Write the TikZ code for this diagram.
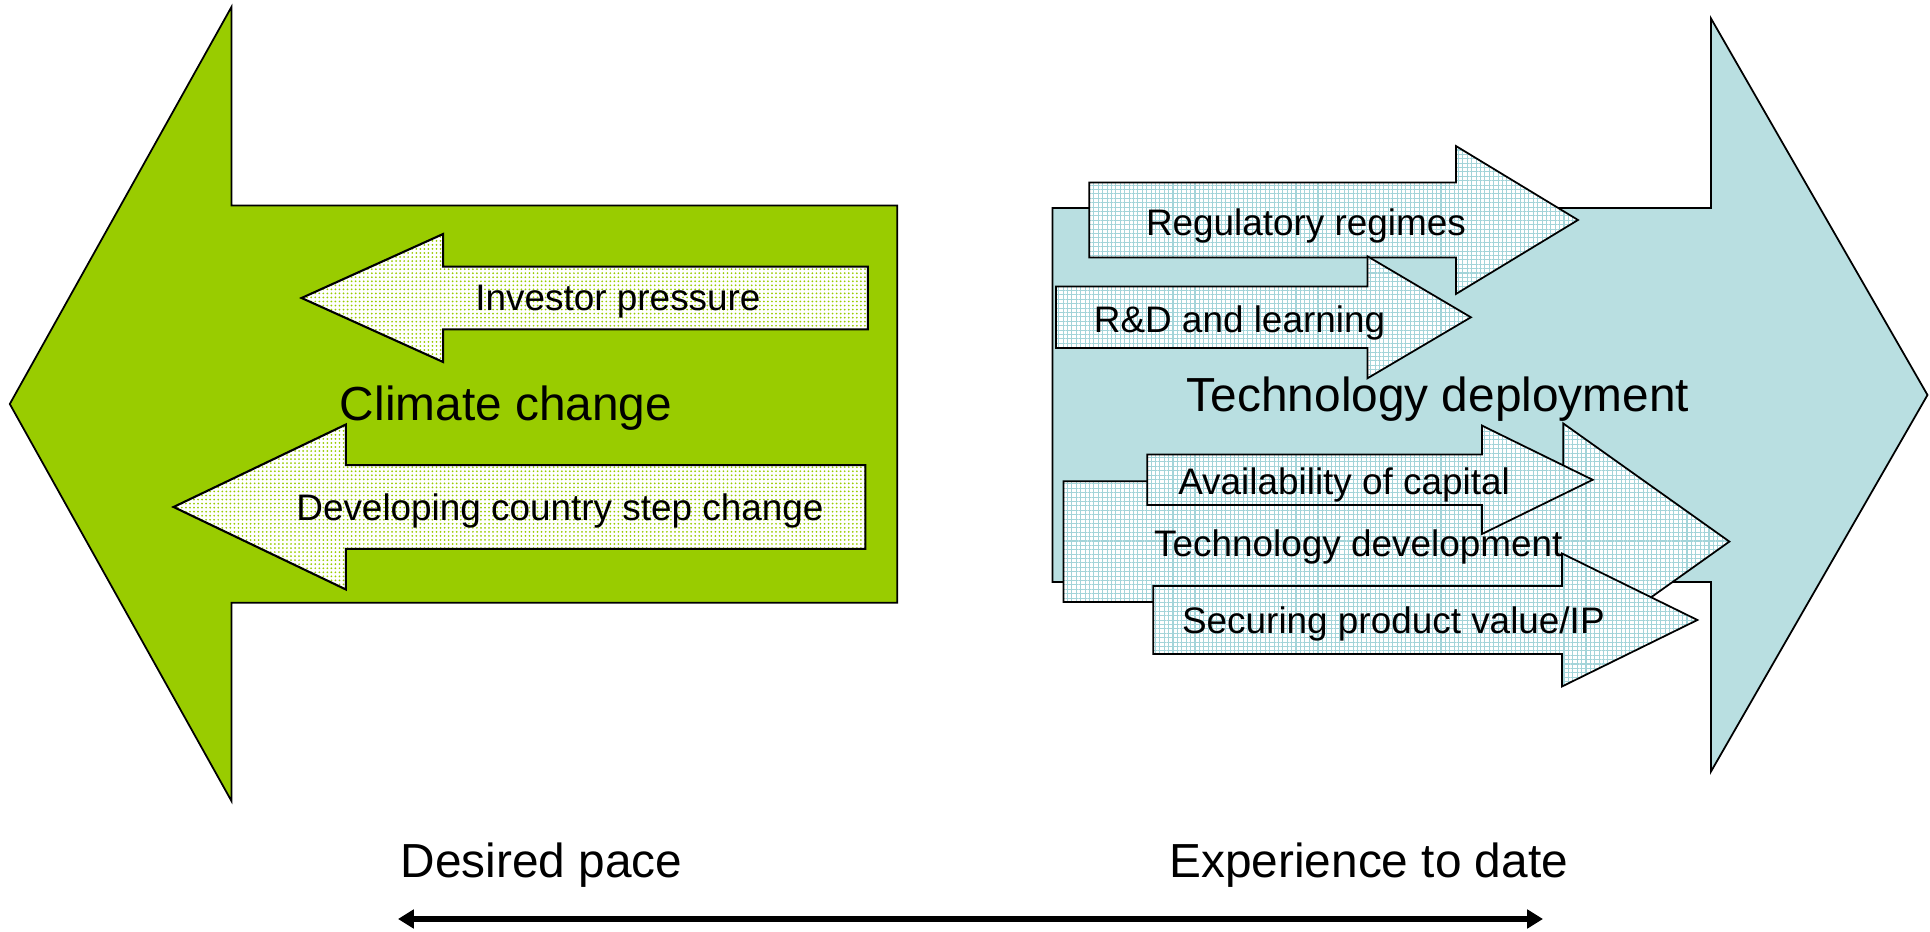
\documentclass[tikz,border=0pt]{standalone}
\usepackage{fontspec}
\setmainfont{Liberation Sans}
\usetikzlibrary{patterns.meta,arrows.meta}

\definecolor{climgreen}{HTML}{99CC00}
\definecolor{techblue}{HTML}{B9DFE1}
\definecolor{gridblue}{HTML}{A3D4D9}

\tikzset{
  bigshape/.style={draw=black, line width=0.5pt, line join=miter},
  greenpush/.style={draw=black, line width=0.6pt, preaction={fill=white},
    pattern={Dots[distance=1.15pt, radius=0.28pt]}, pattern color=climgreen},
  bluepush/.style={draw=black, line width=0.5pt, preaction={fill=white},
    pattern={Hatch[angle=0, distance=1.25pt, line width=0.3pt]}, pattern color=gridblue},
  biglabel/.style={font=\fontsize{13.6}{16}\selectfont, inner sep=0pt},
  smalllabel/.style={font=\fontsize{10.5}{12.6}\selectfont, inner sep=0pt}
}

\begin{document}
\begin{tikzpicture}
            \useasboundingbox (0, 0) rectangle (19.30, 9.32);

            % the climate change arrow
            \draw[bigshape, fill=climgreen]
            (8.973, 7.264) -- (2.314, 7.264) -- (2.314, 9.249) -- (0.098, 5.28)
            -- (2.314, 1.311) -- (2.314, 3.292) -- (8.973, 3.292) -- cycle;

            % the technology deployment arrow
            \draw[bigshape, fill=techblue]
            (10.524, 7.241) -- (17.109, 7.241) -- (17.109, 9.137) -- (19.275, 5.37)
            -- (17.109, 1.603) -- (17.109, 3.499) -- (10.524, 3.499) -- cycle;

            % pressures pushing to the left
            \foreach \xr/\xh/\xt/\yc/\sw/\hw in {8.678/4.431/3.016/6.34/0.314/0.64,
                8.653/3.459/1.736/4.25/0.419/0.825}{
            \draw[greenpush]
            (\xr, \yc+\sw) -- (\xh, \yc+\sw) -- (\xh, \yc+\hw) -- (\xt, \yc)
            -- (\xh, \yc-\hw) -- (\xh, \yc-\sw) -- (\xr, \yc-\sw) -- cycle;
            }

            % barriers pushing to the right
            \foreach \xl/\xh/\xt/\yc/\sw/\hw in {10.893/14.561/15.78/7.12/0.376/0.739,
                10.561/13.675/14.709/6.147/0.308/0.61,
                10.635/15.632/17.294/3.904/0.603/1.182,
                11.472/14.82/15.927/4.522/0.253/0.542,
                11.533/15.62/16.974/3.12/0.339/0.665}{
            \draw[bluepush]
            (\xl, \yc+\sw) -- (\xh, \yc+\sw) -- (\xh, \yc+\hw) -- (\xt, \yc)
            -- (\xh, \yc-\hw) -- (\xh, \yc-\sw) -- (\xl, \yc-\sw) -- cycle;
            }

            \node[biglabel] (climate) at (5.06, 5.24) {Climate change};
            \node[biglabel] (techdep) at (14.38, 5.327) {Technology deployment};

            \node[smalllabel] (investor) at (6.18, 6.30) {Investor pressure};
            \node[smalllabel] (developing) at (5.60, 4.209) {Developing country step change};

            \node[smalllabel] (regulatory) at (13.06, 7.06) {Regulatory regimes};
            \node[smalllabel] (rnd) at (12.395, 6.095) {R\&D and learning};
            \node[smalllabel] (capital) at (13.441, 4.47) {Availability of capital};
            \node[smalllabel] (techdev) at (13.583, 3.855) {Technology development};
            \node[smalllabel] (securing) at (13.934, 3.078) {Securing product value/IP};

            % the pace scale
            \node[biglabel] (desired) at (5.416, 0.666) {Desired pace};
            \node[biglabel] (experience) at (13.687, 0.666) {Experience to date};
            \coordinate (paceL) at (3.98, 0.13);
            \coordinate (paceR) at (15.43, 0.13);
            \draw[{Triangle[length=4.5pt, width=5.2pt]}-{Triangle[length=4.5pt, width=5.2pt]},
              line width=1.7pt] (paceL) -- (paceR);
\end{tikzpicture}
\end{document}
